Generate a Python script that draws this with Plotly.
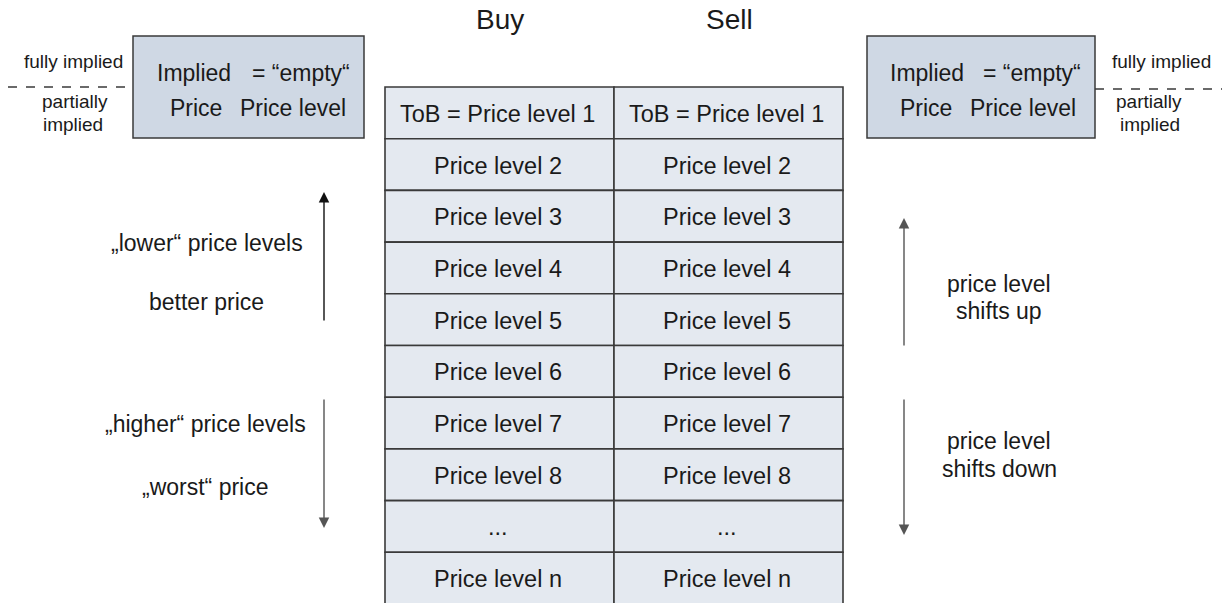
import plotly.graph_objects as go

# ---- data ----
columns = ["Buy", "Sell"]
rows = ["ToB = Price level 1", "Price level 2", "Price level 3", "Price level 4",
        "Price level 5", "Price level 6", "Price level 7", "Price level 8",
        "...", "Price level n"]
box_top = ["Implied", "= \u201cempty\u201c"]
box_bottom = ["Price", "Price level"]
side_top = "fully implied"
side_bottom = ["partially", "implied"]
left_notes = ["\u201elower\u201c price levels", "better price",
              "\u201ehigher\u201c price levels", "\u201eworst\u201c price"]
right_notes = [["price level", "shifts up"], ["price level", "shifts down"]]

W, H = 1222, 603
FONT = "Liberation Sans, Arial, sans-serif"
TXT = "#1a1a1a"
LINE = "#3a3a3a"

fig = go.Figure()
shapes = []
ann = []

def text(x, y, s, size=23, xanchor="center"):
    ann.append(dict(x=x, y=y, text=s, showarrow=False, xref="x", yref="y",
                    xanchor=xanchor, yanchor="middle",
                    font=dict(family=FONT, size=size, color=TXT)))

# table
tx0, tmid, tx1 = 385, 614, 843
ty0, rh = 87, 51.7
col_x = [tx0, tmid, tx1]
for i, lab in enumerate(rows):
    y0 = ty0 + i * rh
    y1 = y0 + rh
    for c in range(2):
        shapes.append(dict(type="rect", xref="x", yref="y",
                           x0=col_x[c], x1=col_x[c + 1], y0=y0, y1=y1,
                           fillcolor="#e4e9f0", line=dict(color=LINE, width=1.6),
                           layer="below"))
        text((col_x[c] + col_x[c + 1]) / 2 - 2, (y0 + y1) / 2 + 1, lab, size=23.5)

# headers
text(500, 19, columns[0], size=28)
text(729, 19, columns[1], size=28)

# side boxes
def side_box(x0, x1, pos):
    shapes.append(dict(type="rect", xref="x", yref="y", x0=x0, x1=x1, y0=36, y1=138,
                       fillcolor="#cfd8e4", line=dict(color=LINE, width=1.5)))
    text(pos[0], 73, box_top[0])
    text(pos[1], 73, box_top[1])
    text(pos[2], 108, box_bottom[0])
    text(pos[3], 108, box_bottom[1])

side_box(133, 364, [194, 301, 196, 293])
side_box(867, 1095, [927, 1032, 926, 1023])

# dashed separators and labels
shapes.append(dict(type="line", xref="x", yref="y", x0=8, x1=133, y0=87, y1=87,
                   line=dict(color=LINE, width=1.3, dash="dash")))
shapes.append(dict(type="line", xref="x", yref="y", x0=1095, x1=1222, y0=89, y1=89,
                   line=dict(color=LINE, width=1.3, dash="dash")))
text(73, 61, side_top, size=19)
text(75, 101, side_bottom[0], size=19)
text(73, 124, side_bottom[1], size=19)
text(1161, 61, side_top, size=19)
text(1149, 101, side_bottom[0], size=19)
text(1150, 124, side_bottom[1], size=19)

# left notes
text(207, 243, left_notes[0])
text(206, 302, left_notes[1])
text(205, 424, left_notes[2])
text(205, 487, left_notes[3])

# right notes
text(999, 284, right_notes[0][0])
text(999, 311, right_notes[0][1])
text(999, 441, right_notes[1][0])
text(999, 469, right_notes[1][1])

# arrows
def arrow(x, y_from, y_to, color):
    ann.append(dict(x=x, y=y_to, ax=x, ay=y_from, xref="x", yref="y",
                    axref="x", ayref="y", showarrow=True, text="",
                    arrowhead=2, arrowsize=1.5, arrowwidth=1.4, arrowcolor=color))

arrow(324, 322, 192, "#111111")
arrow(324, 398, 528, "#555555")
arrow(904, 347, 218, "#555555")
arrow(904, 398, 535, "#555555")

fig.update_layout(
    width=W, height=H,
    margin=dict(l=0, r=0, t=0, b=0),
    paper_bgcolor="white", plot_bgcolor="white",
    xaxis=dict(range=[0, W], visible=False, fixedrange=True),
    yaxis=dict(range=[H, 0], visible=False, fixedrange=True),
    shapes=shapes, annotations=ann, showlegend=False,
)
fig.write_html("out.html", config={"displayModeBar": False},
               post_script="document.body.style.margin='0px';document.body.style.overflow='hidden';")
